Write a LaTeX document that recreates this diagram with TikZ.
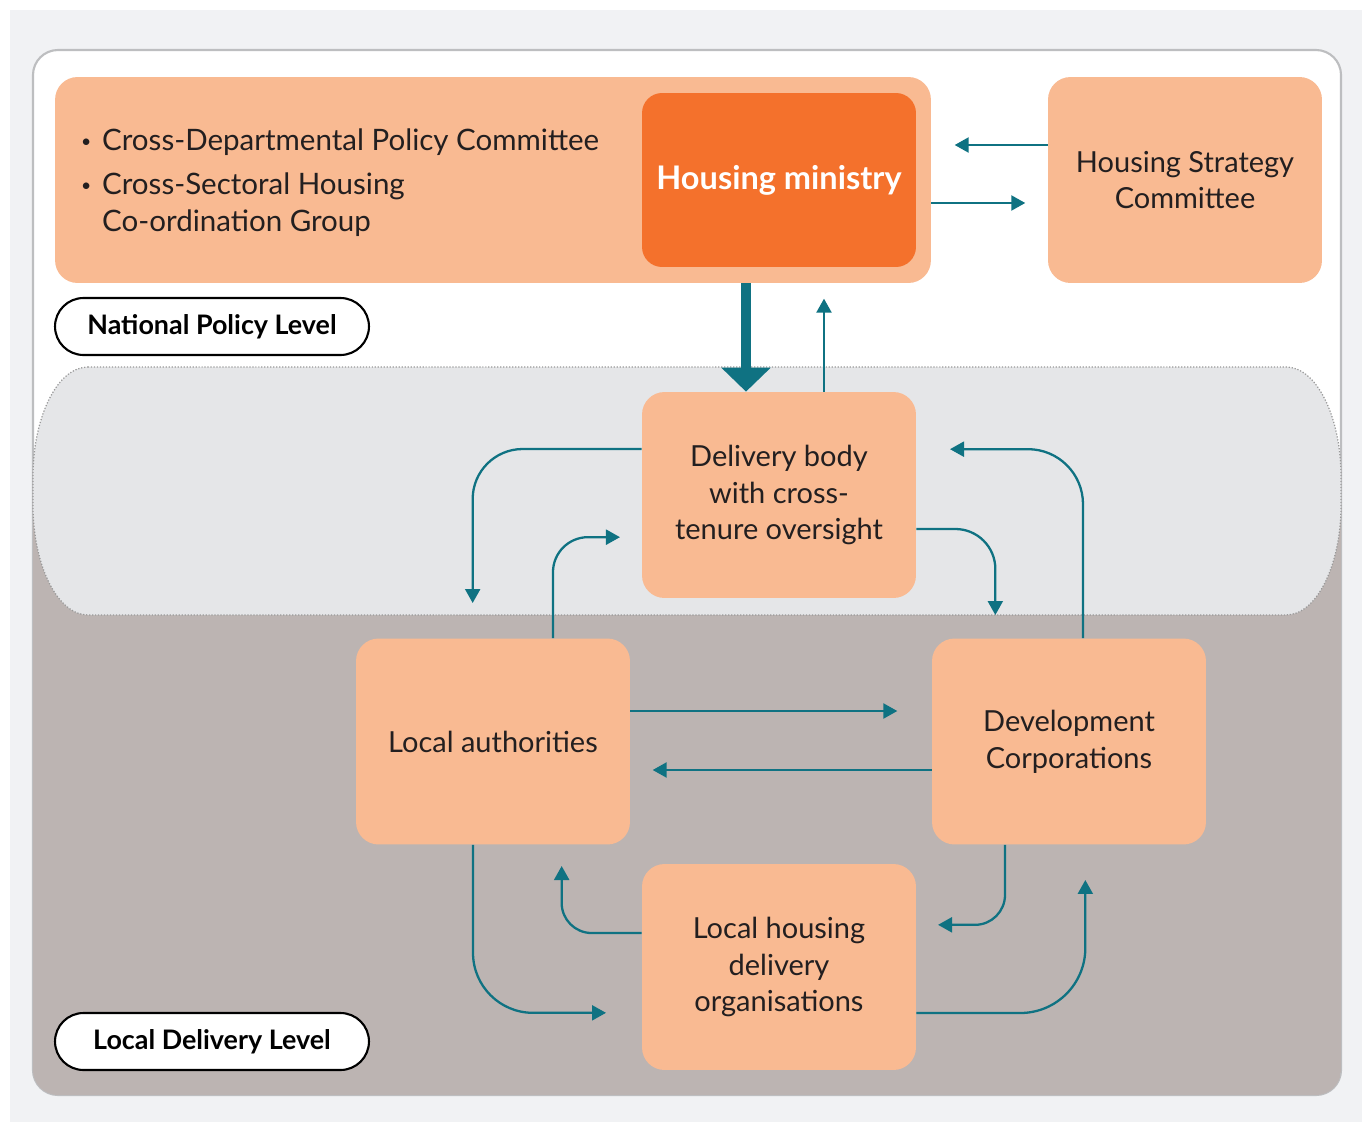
\documentclass[tikz,border=0pt]{standalone}
\usepackage{fontspec}
\setmainfont{Lato}
\usepackage{xcolor}
\usetikzlibrary{arrows.meta}

\definecolor{peach}{HTML}{F9BA92}
\definecolor{ministry}{HTML}{F4712C}
\definecolor{teal}{HTML}{0F7282}
\definecolor{lowfill}{HTML}{BCB4B2}
\definecolor{bandfill}{HTML}{E5E6E8}
\definecolor{outerbg}{HTML}{F1F2F4}
\definecolor{panelline}{HTML}{BDBEC0}
\definecolor{ink}{HTML}{231F20}
\newcommand{\groupbullet}{\makebox[0.42cm][l]{\raisebox{0.2ex}{\fontsize{10}{10}\selectfont\textbullet}}}

\begin{document}
\begin{tikzpicture}[x=0.02cm,y=-0.02cm,
  box/.style={
   fill=peach,
   rounded corners=0.45cm,
   minimum width=5.48cm,
   minimum height=4.12cm,
   align=center,
   text=ink,
   font=\fontsize{16.5}{21}\selectfont
  },
  pill/.style={
   draw=black,
   fill=white,
   line width=1.2pt,
   rounded corners=0.57cm,
   minimum width=6.28cm,
   minimum height=1.14cm,
   font=\fontsize{15.3}{18}\bfseries\selectfont
  },
  link/.style={
   draw=teal,
   line width=1.3pt,
   -{Triangle[length=0.28cm,width=0.3cm]}
  },
  bigarrow/.style={
   draw=teal,
   line width=0.2cm,
   -{Triangle[length=0.48cm,width=0.96cm]}
  }]
  % frame
  \useasboundingbox (0,0) rectangle (1362,1122);
  \fill[outerbg] (10,10) rectangle (1362,1122);
  \filldraw[fill=white,draw=panelline,line width=1.2pt,rounded corners=0.5cm]
    (33,50) rectangle (1341,1095);
  \begin{scope}
    \clip[rounded corners=0.5cm] (33,50) rectangle (1341,1095);
    \fill[lowfill] (33,490) rectangle (1341,1095);
  \end{scope}
  \filldraw[fill=bandfill,draw=gray!80,densely dotted,line width=0.7pt]
    (88,367) -- (1286,367)
    arc[start angle=90,end angle=0,x radius=1.1cm,y radius=2.2cm] -- (1341,505)
    arc[start angle=0,end angle=-90,x radius=1.1cm,y radius=2.2cm] -- (88,615)
    arc[start angle=270,end angle=180,x radius=1.1cm,y radius=2.2cm] -- (33,477)
    arc[start angle=180,end angle=90,x radius=1.1cm,y radius=2.2cm] -- cycle;

  % national level
  \node[box,minimum width=17.52cm] (policy) at (493,180) {};
  \node[box,fill=ministry,minimum height=3.48cm,rounded corners=0.4cm,
        text=white,font=\fontsize{18.5}{21}\bfseries\selectfont]
    (ministry) at (779,180) {Housing ministry};
  \node[anchor=west,align=left,text=ink,font=\fontsize{16.8}{21}\selectfont]
    (groups) at (75,183)
    {\groupbullet Cross-Departmental Policy Committee\\[4pt]
     \groupbullet Cross-Sectoral Housing\\
     \hspace{0.42cm}Co-ordination Group};
  \node[box] (hsc) at (1185,180) {Housing Strategy\\Committee};
  \node[pill] (national) at (212,326.5) {National Policy Level};

  % delivery level
  \node[box] (db) at (779,495) {Delivery body\\with cross-\\tenure oversight};
  \node[box] (la) at (493,741.5) {Local authorities};
  \node[box] (dc) at (1069,741.5) {Development\\Corporations};
  \node[box] (lhdo) at (779,967) {Local housing\\delivery\\organisations};
  \node[pill] (local) at (212,1041.5) {Local Delivery Level};

  \draw[link] ([yshift=-0.46cm]policy.east) -- ++(94,0);
  \draw[link] ([yshift=0.7cm]hsc.west) -- ++(-93,0);
  \draw[bigarrow] ([xshift=-0.66cm]db.north |- policy.south) -- ([xshift=-0.66cm]db.north);
  \draw[link] ([xshift=0.9cm]db.north) -- ++(0,-93);

  \draw[link,rounded corners=1cm] ([yshift=0.92cm]db.west) -| ++(-169,154);
  \draw[link,rounded corners=0.7cm] ([xshift=1.2cm]la.north) |- ++(67,-101);
  \draw[link,rounded corners=0.8cm] ([yshift=-0.68cm]db.east) -| ++(79,86);
  \draw[link,rounded corners=1.1cm] ([xshift=0.28cm]dc.north) |- ++(-133,-189);
  \draw[link] ([yshift=0.61cm]la.east) -- ++(267,0);
  \draw[link] ([yshift=-0.57cm]dc.west) -- ++(-279,0);
  \draw[link,rounded corners=1.2cm] ([xshift=-0.4cm]la.south) |- ++(133,168);
  \draw[link,rounded corners=0.6cm] ([yshift=0.68cm]lhdo.west) -| ++(-80,-67);
  \draw[link,rounded corners=0.6cm] ([xshift=-1.28cm]dc.south) |- ++(-67,80);
  \draw[link,rounded corners=1.3cm] ([yshift=-0.92cm]lhdo.east) -| ++(169,-133);

\end{tikzpicture}
\end{document}
